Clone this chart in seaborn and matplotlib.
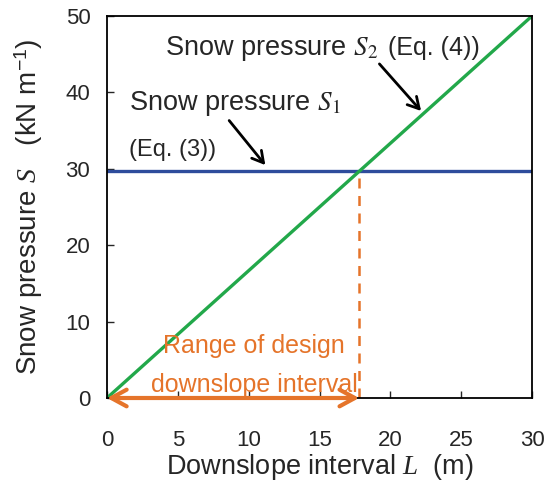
import matplotlib
matplotlib.use("Agg")
import matplotlib.pyplot as plt
import seaborn as sns
import pandas as pd

# Data
L_vals = [0, 30]
S2_vals = [0, 50]
S1_value = 29.7
L_design = 17.8
x_ticks = [0, 5, 10, 15, 20, 25, 30]
y_ticks = [0, 10, 20, 30, 40, 50]

sns.set_style("ticks")
plt.rcParams["font.family"] = ["Liberation Sans", "DejaVu Sans"]
plt.rcParams["mathtext.fontset"] = "custom"
plt.rcParams["mathtext.rm"] = "Liberation Sans"
plt.rcParams["mathtext.it"] = "Liberation Serif:italic"
plt.rcParams["mathtext.sf"] = "Liberation Sans"

GREEN = "#22A84A"
BLUE = "#2E4C9C"
ORANGE = "#E5742A"

fig = plt.figure(figsize=(5.49, 4.86), dpi=100)
ax = fig.add_axes([107/549, 1-398/486, (532-107)/549, (398-16)/486])

df2 = pd.DataFrame({"L": L_vals, "S": S2_vals})
df1 = pd.DataFrame({"L": [L_vals[0], L_vals[-1]], "S": [S1_value, S1_value]})
sns.lineplot(data=df1, x="L", y="S", color=BLUE, lw=2.4, ax=ax)
sns.lineplot(data=df2, x="L", y="S", color=GREEN, lw=2.4, ax=ax)
ax.plot([L_design, L_design], [0, S1_value], color=ORANGE, lw=1.8,
        ls=(0, (4, 3)))

ax.set_xlim(0, 30)
ax.set_ylim(0, 50)
ax.set_xticks(x_ticks)
ax.set_yticks(y_ticks)
ax.tick_params(axis="x", direction="in", length=5, width=1, labelsize=16, pad=23, top=False)
ax.tick_params(axis="y", direction="in", length=5, width=1, labelsize=16, pad=12, right=False)
for s in ax.spines.values():
    s.set_linewidth(1.3)
    s.set_color("black")

ax.set_xlabel("Downslope interval $L$  (m)", fontsize=19.5, labelpad=1)
ax.set_ylabel("Snow pressure $S$   (kN m$^{-1}$)", fontsize=20, labelpad=15)

# Annotations
ax.text(4.1, 45.8, "Snow pressure $S_2$", fontsize=19.5, va="center", ha="left",
        math_fontfamily="stix")
ax.text(19.8, 45.8, "(Eq. (4))", fontsize=18, va="center", ha="left")
ax.annotate("", xy=(22.3, 37.3), xytext=(19.1, 44.0),
            arrowprops=dict(arrowstyle="->,head_length=0.8,head_width=0.45", color="black", lw=2))

ax.text(1.55, 38.6, "Snow pressure $S_1$", fontsize=19.5, va="center", ha="left",
        math_fontfamily="stix")
ax.text(1.55, 32.5, "(Eq. (3))", fontsize=17, va="center", ha="left")
ax.annotate("", xy=(11.3, 30.2), xytext=(8.5, 36.6),
            arrowprops=dict(arrowstyle="->,head_length=0.8,head_width=0.45", color="black", lw=2))

ax.text(10.4, 6.8, "Range of design", fontsize=18, color=ORANGE, va="center", ha="center")
ax.text(10.4, 1.7, "downslope interval", fontsize=18, color=ORANGE, va="center", ha="center")
ax.annotate("", xy=(L_design, 0), xytext=(0, 0), annotation_clip=False,
            arrowprops=dict(arrowstyle="<->,head_length=1.1,head_width=0.6", color=ORANGE, lw=3,
                            shrinkA=0, shrinkB=0))

fig.savefig("out.png", dpi=100)
